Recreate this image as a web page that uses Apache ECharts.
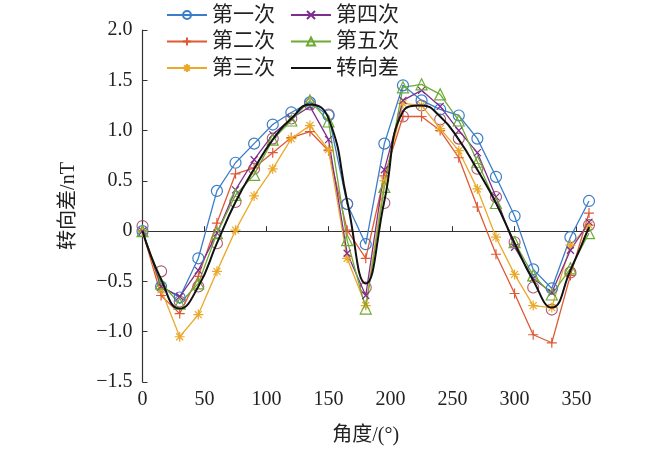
<!DOCTYPE html>
<html>
<head>
<meta charset="utf-8">
<script src="https://cdn.jsdelivr.net/npm/echarts@6/dist/echarts.min.js"></script>
<style>
  html, body { margin: 0; padding: 0; background: #fff; }
  #main { width: 650px; height: 451px; }
</style>
</head>
<body>
<div id="main"></div>
<script>
// angles in degrees
const angles = [0, 15, 30, 45, 60, 75, 90, 105, 120, 135, 150, 165, 180,
  195, 210, 225, 240, 255, 270, 285, 300, 315, 330, 345, 360];

const run1 = [0, -0.55, -0.66, -0.27, 0.40, 0.68, 0.87, 1.06, 1.18, 1.28, 1.15, 0.27, -0.13,
  0.87, 1.45, 1.30, 1.21, 1.15, 0.92, 0.54, 0.15, -0.38, -0.57, -0.06, 0.30];
const run2 = [0, -0.64, -0.82, -0.45, 0.08, 0.57, 0.63, 0.78, 0.93, 0.99, 0.80, 0.01, -0.27,
  0.55, 1.14, 1.14, 1.00, 0.73, 0.24, -0.23, -0.62, -1.03, -1.11, -0.44, 0.18];
const run3 = [0, -0.58, -1.05, -0.83, -0.40, 0.01, 0.35, 0.62, 0.92, 1.05, 0.81, -0.27, -0.74,
  0.50, 1.27, 1.25, 1.02, 0.80, 0.42, -0.06, -0.43, -0.74, -0.76, -0.14, 0.06];
const run4 = [0, -0.55, -0.65, -0.39, -0.02, 0.41, 0.71, 0.96, 1.12, 1.24, 0.91, -0.22, -0.64,
  0.61, 1.30, 1.40, 1.24, 1.00, 0.78, 0.34, -0.16, -0.47, -0.61, -0.19, 0.09];
const run5 = [0, -0.52, -0.72, -0.52, -0.02, 0.36, 0.56, 0.91, 1.10, 1.30, 1.09, -0.09, -0.77,
  0.44, 1.43, 1.46, 1.36, 1.10, 0.69, 0.28, -0.11, -0.44, -0.63, -0.37, -0.02];
const turnDiff = [0, -0.48, -0.77, -0.55, -0.12, 0.29, 0.62, 0.91, 1.12, 1.26, 1.12, 0.30, -0.52,
  0.30, 1.19, 1.25, 1.14, 0.91, 0.61, 0.28, -0.12, -0.49, -0.76, -0.39, 0.04];
const meanPts = [0.05, -0.40, -0.70, -0.55, -0.12, 0.29, 0.62, 0.92, 1.12, 1.26, 1.16, 0.27, -0.56,
  0.28, 1.14, 1.25, 1.11, 0.92, 0.62, 0.34, -0.11, -0.56, -0.78, -0.41, 0.06];

const yTicks = ['−1.5', '−1.0', '−0.5', '0', '0.5', '1.0', '1.5', '2.0'];

const pair = arr => angles.map((a, i) => [a, arr[i]]);

const plus = 'path://M5,0L5,10M0,5L10,5';
const cross = 'path://M0,0L10,10M10,0L0,10';
const star = 'path://M5,0L5,10M0,5L10,5M1.5,1.5L8.5,8.5M8.5,1.5L1.5,8.5';
const bar = 'path://M0,0L40,0L40,2L0,2Z';

const cjk = '"Liberation Serif", "Noto Sans CJK SC", serif';

function run(name, data, color, symbol, size) {
  return {
    name: name,
    type: 'line',
    data: pair(data),
    symbol: symbol,
    symbolSize: size,
    color: color,
    lineStyle: { color: color, width: 1.3 },
    itemStyle: { color: 'rgba(0,0,0,0)', borderColor: color, borderWidth: 1.2 },
    z: 3
  };
}

const legendText = { fontFamily: cjk, fontSize: 21, color: '#222', lineHeight: 22 };

const chart = echarts.init(document.getElementById('main'));
chart.setOption({
  animation: false,
  grid: { left: 142.5, right: 61, top: 30, bottom: 69 },
  legend: [
    {
      data: ['第一次', '第二次', '第三次'],
      orient: 'vertical', left: 161, top: -1,
      itemWidth: 40, itemHeight: 10, itemGap: 4.5,
      textStyle: legendText
    },
    {
      data: ['第四次', '第五次', { name: '转向差', icon: bar, itemStyle: { color: '#111' } }],
      orient: 'vertical', left: 285, top: -1,
      itemWidth: 40, itemHeight: 10, itemGap: 4.5,
      textStyle: legendText
    }
  ],
  xAxis: {
    type: 'value', min: 0, max: 360, interval: 50,
    name: '角度/(°)', nameLocation: 'middle', nameGap: 44,
    nameTextStyle: { fontFamily: cjk, fontSize: 20, color: '#222' },
    axisLine: { lineStyle: { color: '#333', width: 1.2 } },
    axisTick: { inside: true, length: 5, lineStyle: { color: '#333' } },
    axisLabel: {
      fontFamily: cjk, fontSize: 20, color: '#222', margin: 8,
      formatter: v => (v % 50 === 0 ? String(v) : '')
    },
    splitLine: { show: false }
  },
  yAxis: {
    type: 'value', min: -1.5, max: 2.0, interval: 0.5,
    name: '转向差/nT', nameLocation: 'middle', nameGap: 64,
    nameTextStyle: { fontFamily: cjk, fontSize: 20, color: '#222' },
    axisLine: { show: true, lineStyle: { color: '#333', width: 1.2 } },
    axisTick: { show: true, inside: true, length: 5, lineStyle: { color: '#333' } },
    axisLabel: {
      fontFamily: cjk, fontSize: 20, color: '#222', margin: 10,
      formatter: v => yTicks[Math.round((v + 1.5) / 0.5)]
    },
    splitLine: { show: false }
  },
  series: [
    run('第一次', run1, '#3a7dc9', 'circle', 11),
    run('第二次', run2, '#dd5a35', plus, 10),
    run('第三次', run3, '#eba92a', star, 10),
    run('第四次', run4, '#7e2f8e', cross, 7),
    run('第五次', run5, '#6faa35', 'triangle', 11),
    {
      name: 'mean',
      type: 'scatter',
      data: pair(meanPts),
      symbol: 'circle',
      symbolSize: 11,
      itemStyle: { color: 'rgba(0,0,0,0)', borderColor: '#9a3050', borderWidth: 1.1 },
      z: 2
    },
    {
      name: '转向差',
      type: 'line',
      data: pair(turnDiff),
      smooth: true,
      showSymbol: false,
      color: '#111',
      lineStyle: { color: '#111', width: 2 },
      z: 4
    }
  ]
});
</script>
</body>
</html>
